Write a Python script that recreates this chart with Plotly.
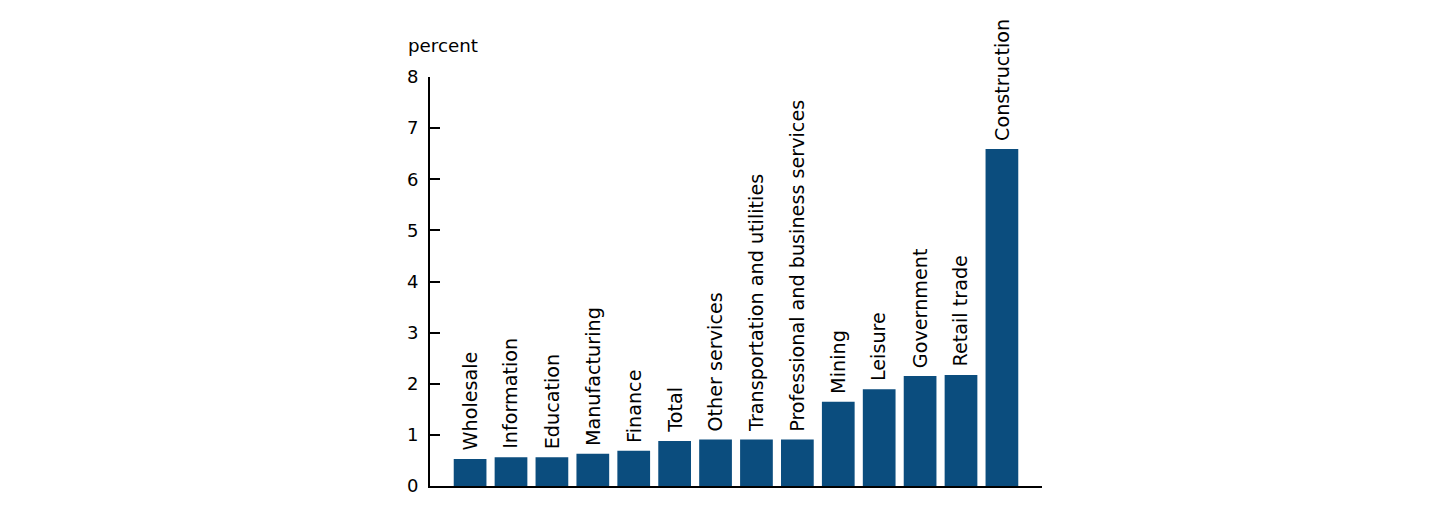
import plotly.graph_objects as go

categories = ["Wholesale", "Information", "Education", "Manufacturing", "Finance", "Total",
              "Other services", "Transportation and utilities", "Professional and business services",
              "Mining", "Leisure", "Government", "Retail trade", "Construction"]
values = [0.53, 0.56, 0.56, 0.63, 0.69, 0.88, 0.91, 0.91, 0.91, 1.65, 1.89, 2.15, 2.17, 6.59]
y_ticks = [0, 1, 2, 3, 4, 5, 6, 7, 8]
y_title = "percent"

FONT = "DejaVu Sans"
BAR = "#0b4d7e"

fig = go.Figure()
fig.add_trace(go.Bar(x=list(range(len(categories))), y=values, marker_color=BAR,
                     marker_line_width=0, width=0.8, hoverinfo="skip"))

for i, (c, v) in enumerate(zip(categories, values)):
    fig.add_annotation(x=i, y=v, text=c, textangle=-90, showarrow=False,
                       xanchor="center", yanchor="bottom", yshift=6,
                       font=dict(family=FONT, size=19.2, color="black"))

fig.add_annotation(x=0, y=1, xref="paper", yref="paper", text=y_title, showarrow=False,
                   xanchor="left", yanchor="middle", xshift=-24, yshift=32,
                   font=dict(family=FONT, size=18.3, color="black"))

fig.update_layout(
    width=1441, height=500,
    margin=dict(l=422, r=407, t=69, b=21.5, pad=0),
    paper_bgcolor="white", plot_bgcolor="white",
    showlegend=False,
    font=dict(family=FONT, size=18, color="black"),
    xaxis=dict(range=[-0.98, 13.98], showticklabels=False, ticks="", showgrid=False,
               zeroline=False, showline=True, linecolor="black", linewidth=2,
               layer="below traces", fixedrange=True),
    yaxis=dict(range=[0, 8], tickvals=y_ticks, ticktext=[str(t) for t in y_ticks],
               ticks="inside", ticklen=10, tickwidth=2, tickcolor="black",
               showgrid=False, zeroline=False, showline=True, linecolor="black",
               linewidth=2, ticklabelstandoff=6, fixedrange=True),
)

fig.write_html("out.html")
